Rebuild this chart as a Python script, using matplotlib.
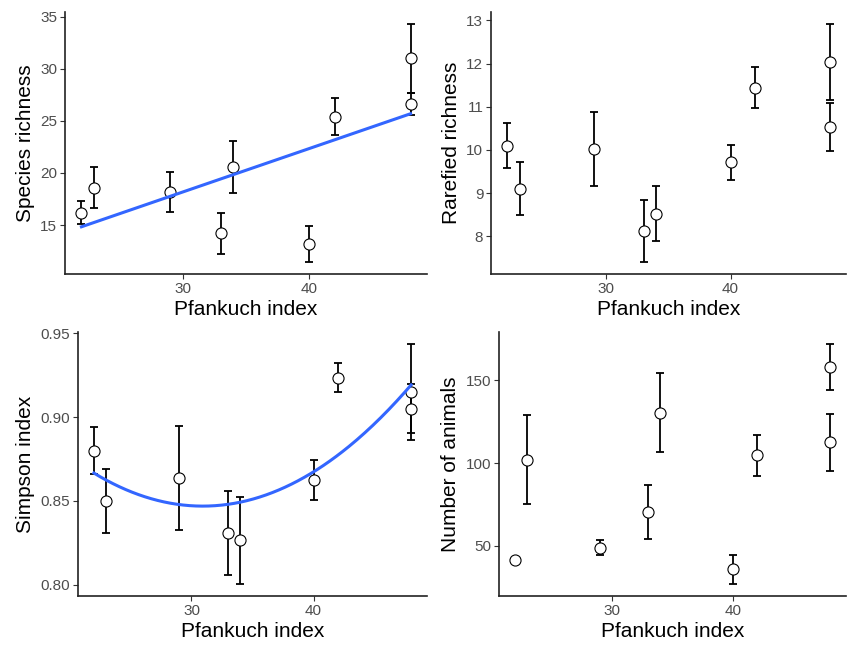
import numpy as np
import matplotlib.pyplot as plt

plt.rcParams['font.family'] = ['Liberation Sans', 'DejaVu Sans']

# Pfankuch index of each site
pfankuch = [22, 23, 29, 33, 34, 40, 42, 48, 48]

richness = [16.2, 18.6, 18.2, 14.2, 20.6, 13.2, 25.4, 31.0, 26.6]
richness_se = [1.1, 2.0, 1.9, 2.0, 2.5, 1.75, 1.8, 3.3, 1.05]

rarefied = [10.1, 9.1, 10.02, 8.12, 8.52, 9.71, 11.44, 12.04, 10.53]
rarefied_se = [0.52, 0.61, 0.85, 0.72, 0.64, 0.41, 0.48, 0.88, 0.55]

simpson = [0.880, 0.850, 0.8635, 0.831, 0.8265, 0.8625, 0.9235, 0.915, 0.905]
simpson_se = [0.014, 0.019, 0.031, 0.025, 0.026, 0.0117, 0.0085, 0.0285, 0.0145]

animals = [41.5, 102.2, 49.0, 70.6, 130.6, 35.8, 104.7, 158.0, 112.6]
animals_se = [0.0, 27.0, 4.3, 16.5, 23.7, 8.8, 12.2, 14.0, 17.4]

panels = [
    ('Species richness', richness, richness_se, 1, [15, 20, 25, 30, 35], None),
    ('Rarefied richness', rarefied, rarefied_se, None, [8, 9, 10, 11, 12, 13], None),
    ('Simpson index', simpson, simpson_se, 2, [0.80, 0.85, 0.90, 0.95], '{:.2f}'),
    ('Number of animals', animals, animals_se, None, [50, 100, 150], None),
]

W, H = 847, 645
boxes = [(65, 12, 427, 274), (491, 12, 846, 274),
         (78, 332, 427, 596), (499, 332, 846, 596)]

fig = plt.figure(figsize=(W / 100, H / 100), dpi=100)

x = np.array(pfankuch, dtype=float)
xlo, xhi = x.min(), x.max()
xpad = 0.05 * (xhi - xlo)

for (ylabel, vals, se, deg, yticks, fmt), (l, t, r, b) in zip(panels, boxes):
    ax = fig.add_axes([l / W, 1 - b / H, (r - l) / W, (b - t) / H])
    y = np.array(vals)
    e = np.array(se)

    ax.errorbar(x, y, yerr=e, fmt='none', ecolor='black', elinewidth=1.3,
                capsize=2.8, capthick=1.3, zorder=2)
    ax.plot(x, y, 'o', ms=8, mfc='white', mec='black', mew=0.8, zorder=3)

    if deg is not None:
        coef = np.polyfit(x, y, deg)
        xs = np.linspace(xlo, xhi, 200)
        ax.plot(xs, np.polyval(coef, xs), color='#3366FF', lw=2.2, zorder=4)

    ymin = (y - e).min()
    ymax = (y + e).max()
    ypad = 0.05 * (ymax - ymin)
    ax.set_ylim(ymin - ypad, ymax + ypad)
    ax.set_xlim(xlo - xpad, xhi + xpad)

    ax.set_xticks([30, 40])
    ax.set_yticks(yticks)
    if fmt:
        ax.set_yticklabels([fmt.format(v) for v in yticks])

    for side in ('top', 'right'):
        ax.spines[side].set_visible(False)
    for side in ('left', 'bottom'):
        ax.spines[side].set_color('#222222')
        ax.spines[side].set_linewidth(1.2)
    ax.tick_params(length=3.5, width=0.8, color='#333333',
                   labelcolor='#4D4D4D', labelsize=11, pad=2)

    ax.set_xlabel('Pfankuch index', fontsize=15, labelpad=3)
    ax.set_ylabel(ylabel, fontsize=15, labelpad=4)

fig.savefig('out.png', dpi=100)
